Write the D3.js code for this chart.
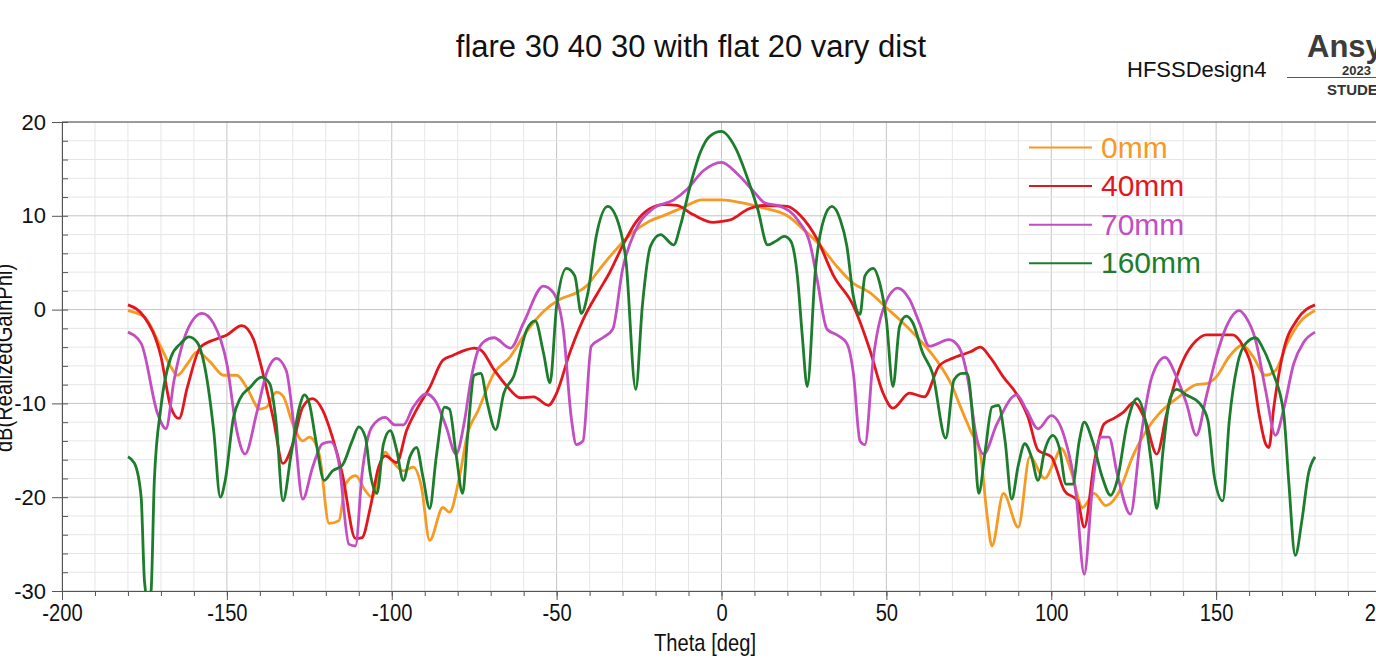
<!DOCTYPE html>
<html>
<head>
<meta charset="utf-8">
<script src="https://cdn.jsdelivr.net/npm/d3@7"></script>
<style>
  html, body { margin: 0; padding: 0; background: #fff; }
  svg { display: block; font-family: "Liberation Sans", Arial, sans-serif; }
</style>
</head>
<body>
<svg id="chart" width="1376" height="658"></svg>
<script>
// series: [theta deg, dB]
const orange0mm = [[-180,-0.1],[-175,-0.8],[-170,-4],[-167,-6.1],[-165,-7],[-162,-5.8],[-159,-4.5],[-155,-5.6],[-151,-7],[-147,-7],[-144,-8.3],[-140,-10.6],[-138,-10.4],[-135,-8.8],[-133,-9.2],[-130,-12.2],[-127,-14],[-125,-13.6],[-122,-15.4],[-119,-22.8],[-116,-22.5],[-114,-18.6],[-111,-17.7],[-108,-19.3],[-106,-20],[-102,-15.2],[-100,-16.1],[-96.5,-17.2],[-93.5,-16.8],[-91,-18.9],[-88.5,-24.6],[-84.5,-21.1],[-82.5,-21.6],[-79.5,-17.9],[-77,-13.2],[-74,-10.9],[-69,-6.8],[-64,-5],[-60,-2.8],[-54,-0.2],[-49,1.1],[-44,1.8],[-41,2.5],[-37,4.3],[-32,6.4],[-27,8.2],[-22,9.4],[-17,10.1],[-11,11],[-6,11.7],[0,11.7],[6,11.4],[12,10.9],[20,10],[25,8.5],[30,6.8],[35,4.6],[40,2.8],[45,1.8],[50,0.2],[55,-1.4],[60,-3.2],[65,-5.3],[70,-8.2],[72.5,-10.4],[75.5,-12.9],[78.5,-15.4],[80.5,-21.8],[82,-25.2],[85.5,-19.6],[90,-23.2],[93.5,-15.7],[98,-18],[101,-16.1],[103,-14.8],[106,-17.2],[109.5,-21.1],[113,-19.6],[116.5,-20.9],[120,-19.8],[125,-15.4],[131,-11.8],[136,-10],[138,-9.5],[144,-8],[147,-7.9],[150,-7.2],[154,-5],[158,-3.8],[161,-4.9],[165,-7],[168,-6.5],[171.5,-3.6],[175.5,-1.3],[180,-0.1]];

const red40mm = [[-180,0.5],[-175,-0.8],[-170,-5],[-167,-10.4],[-164.5,-11.6],[-162,-8.3],[-158,-4],[-153,-3.1],[-150,-2.7],[-145.5,-1.7],[-142,-3.1],[-140,-5.5],[-136,-11.5],[-133,-16.4],[-130,-14.3],[-127,-10.4],[-124,-9.5],[-121,-10.7],[-118,-13.6],[-115,-17.5],[-111,-24.4],[-109,-24.3],[-106.5,-21.1],[-104,-16.8],[-102,-15.6],[-98.5,-16.3],[-95.5,-12.9],[-92.5,-10.7],[-88.5,-8.3],[-84.5,-5.4],[-81.5,-4.9],[-77.5,-4.3],[-75,-4.1],[-73,-4.3],[-69,-6.4],[-65,-8.2],[-61,-9.4],[-57,-9.3],[-52.5,-10.2],[-50,-8.9],[-46,-4.6],[-42,-1.1],[-37,2.1],[-34,3.9],[-30,6.8],[-26,9.3],[-22,10.7],[-17.5,11.2],[-13.5,11.1],[-8.5,10.1],[-2.5,9.3],[0,9.4],[3,9.6],[8,10.7],[13,11.1],[20,11],[24,10],[29,7.5],[34,3.6],[40,0.4],[45,-4.3],[49,-8.9],[52,-10.5],[57,-8.9],[61.5,-9.3],[66,-6],[70,-5.2],[73,-4.8],[75.5,-4.5],[78.5,-4],[81.5,-5.1],[85.5,-7.2],[89.5,-9],[93,-11.5],[96,-15],[100,-15.7],[104,-19.3],[108,-20.4],[110,-23.2],[113,-16.4],[116,-12.2],[119,-11.6],[122,-10.9],[125,-9.9],[128.5,-11.8],[132,-15.4],[135,-11.1],[138,-7.2],[140,-5.4],[144,-3.3],[147,-2.7],[151,-2.7],[155,-2.7],[158,-3.8],[161,-6.5],[163,-11.1],[165,-14.3],[166,-14.7],[167.5,-10.4],[170.5,-4.3],[174.5,-1.1],[180,0.5]];

const magenta70mm = [[-180,-2.4],[-176,-3.6],[-171,-11.1],[-168.5,-12.7],[-166,-7.5],[-162,-2.2],[-157.5,-0.4],[-154,-1.5],[-150,-5.8],[-147,-12.9],[-144.5,-15.4],[-141,-11.1],[-138,-6.8],[-135,-5.2],[-132,-6.5],[-129.5,-12.9],[-127,-20.2],[-124,-16.8],[-121,-14.3],[-118.5,-14.1],[-116,-16.4],[-113,-25],[-111,-25.2],[-109,-17.5],[-106,-12.5],[-102,-11.5],[-99,-12.3],[-96.5,-12.3],[-93.5,-10.4],[-89.5,-9],[-86.5,-9.9],[-83.5,-12.5],[-80.5,-15.4],[-78,-12],[-76,-7.5],[-74,-4.5],[-72,-3.4],[-69,-3],[-64,-4.1],[-60,-1.4],[-54,2.5],[-51,1.8],[-48,-2.1],[-45.5,-11.7],[-44,-14.4],[-42,-14],[-39.5,-3.9],[-36,-3],[-33,-2.1],[-30,4.3],[-26,8.5],[-21,10.7],[-14.5,11.7],[-10.5,12.8],[-5.5,14.8],[0,15.7],[5,14.4],[10,12.5],[13,11.4],[18,11],[23,9.6],[27,6.8],[29,3.2],[32,-2.1],[35,-2.7],[38,-3.6],[40,-6.8],[42,-14],[43.5,-14.4],[46,-5.3],[49,0],[53.5,2.3],[57,1.1],[60,-1.4],[63,-3.9],[69,-3.2],[72,-4],[75,-8],[77,-13],[79.5,-15.4],[83.5,-12.2],[89.5,-9.1],[92.5,-10.7],[96,-12.7],[100,-11.3],[104,-13.6],[107.5,-19.6],[110,-28.2],[112.5,-18.9],[115,-13.6],[117.5,-13.6],[120,-17.5],[124,-21.8],[127,-14],[130.5,-7.2],[134.5,-5.1],[138,-7.2],[141,-10],[144,-13.4],[147,-9.3],[150,-5.1],[153,-1.9],[157,-0.1],[159,-0.8],[162,-3.3],[165,-8.6],[168,-13.4],[170.5,-10.6],[173.5,-5.8],[176.5,-3.5],[180,-2.4]];

const green160mm = [[-180,-15.7],[-178,-16.4],[-176,-20],[-175,-28.9],[-174,-31],[-173,-30],[-172,-18.2],[-170,-10.4],[-167,-5.1],[-164,-3.6],[-161.5,-2.9],[-159,-3.5],[-156,-7.5],[-154,-12.9],[-152,-20],[-150.5,-18.2],[-148,-11.5],[-146,-9.5],[-143,-8.3],[-139.5,-7.2],[-137,-7.9],[-135,-12.2],[-133,-20.4],[-130.5,-15.4],[-128,-10.4],[-126.5,-9.1],[-125,-10],[-123,-14],[-120.5,-18.2],[-118,-17.2],[-115,-16.6],[-112,-14],[-110,-12.5],[-108,-13.6],[-106.5,-17.5],[-104.5,-19.6],[-102.5,-14.3],[-100.5,-12.9],[-98.5,-15],[-96.5,-18.2],[-94.5,-15.7],[-92.5,-14.7],[-90.5,-17.9],[-88.5,-21.2],[-86.5,-15.7],[-84,-10.4],[-82.5,-10.6],[-80.5,-15.4],[-78.5,-19.6],[-77,-13.5],[-75,-7],[-73,-6.8],[-71,-10],[-68.5,-12.8],[-66,-8.9],[-63,-7.1],[-59,-2.1],[-56.5,-1.2],[-54,-4.6],[-52,-7.8],[-50,0.4],[-47,4.4],[-44.5,3.6],[-42.5,-0.4],[-40.5,1.8],[-38,7.8],[-34.5,11],[-31,8.9],[-29,5.3],[-26,-8.5],[-24,0.4],[-21.5,6.8],[-18.5,8],[-14.5,6.9],[-12.5,8.9],[-9.5,13.2],[-6.5,16.7],[-3.5,18.5],[0,19],[4,17.4],[8,13.9],[11,10.7],[14,6.9],[16.5,7.3],[19,7.8],[21,7.3],[23,3.6],[24.5,-2.8],[26,-8.2],[28.5,4.3],[31,9.6],[33.5,11],[36,9.6],[38,6.8],[40,1.4],[42,-0.5],[43.5,3.6],[46,4.4],[48,2.8],[50,-1.1],[52,-8.2],[54,-1.8],[56,-0.7],[58,-1.4],[61,-4.6],[64,-6.8],[68,-13.7],[70.5,-7.5],[73,-6.8],[74.5,-6.8],[76.5,-12.9],[78,-19.6],[80,-15],[82,-10.4],[84,-10.2],[86,-14],[88,-20.2],[90,-16.6],[92,-14.3],[94,-15.7],[96,-18.2],[98,-15],[100.5,-13.4],[102.5,-14.8],[104.5,-18.6],[106.5,-18.6],[108.5,-14],[110,-12],[112.5,-14],[115.5,-17.9],[118,-19.8],[120,-18.2],[123,-12.2],[126,-9.5],[128.5,-11.8],[130.5,-16.8],[132,-21.2],[134,-14.7],[136,-9.5],[138,-8.5],[141,-9.1],[145,-10],[147.5,-11.8],[149.5,-17.9],[152,-20.4],[154,-11.8],[156.5,-5.8],[159,-3.6],[162,-3],[164,-4],[167,-6.5],[170.5,-11.1],[172,-18.2],[174,-26.2],[176,-22.5],[178,-17.5],[180,-15.7]];

const seriesNames = ['0mm', '40mm', '70mm', '160mm'];
const seriesData = [orange0mm, red40mm, magenta70mm, green160mm];
const seriesColors = ['#f59a23', '#e3161e', '#c24ec2', '#1c7d2c'];

const xMajorTicks = [-200, -150, -100, -50, 0, 50, 100, 150, 200];
const yMajorTicks = [-30, -20, -10, 0, 10, 20];

const svg = d3.select('#chart');

const x = d3.scaleLinear().domain([-200, 200]).range([62, 1381]);
const y = d3.scaleLinear().domain([-30, 20]).range([591, 122]);

// plain hyphen minus like the original
const fmt = d => String(d);

// grid
const grid = svg.append('g');
grid.selectAll('.vmin').data(d3.range(-200, 201, 10)).enter().append('line')
    .attr('x1', d => x(d)).attr('x2', d => x(d))
    .attr('y1', y(-30)).attr('y2', y(20))
    .attr('stroke', d => d % 50 === 0 ? '#c4c4c4' : '#e6e6e6')
    .attr('stroke-width', 1);
grid.selectAll('.hmin').data(d3.range(-30, 21, 2)).enter().append('line')
    .attr('x1', x(-200)).attr('x2', x(200))
    .attr('y1', d => y(d)).attr('y2', d => y(d))
    .attr('stroke', d => d % 10 === 0 ? '#c4c4c4' : '#e6e6e6')
    .attr('stroke-width', 1);

// curves
svg.append('clipPath').attr('id', 'plotclip')
    .append('rect')
    .attr('x', x(-200)).attr('y', y(20))
    .attr('width', x(200) - x(-200)).attr('height', y(-30) - y(20));

const line = d3.line()
    .x(d => x(d[0]))
    .y(d => y(d[1]))
    .curve(d3.curveMonotoneX);

svg.append('g').attr('clip-path', 'url(#plotclip)')
    .selectAll('path')
    .data(seriesData)
    .enter()
    .append('path')
    .attr('d', line)
    .attr('fill', 'none')
    .attr('stroke', (d, i) => seriesColors[i])
    .attr('stroke-width', 2.8)
    .attr('stroke-linejoin', 'round');

// top frame
svg.append('line')
    .attr('x1', x(-200)).attr('x2', x(200))
    .attr('y1', y(20)).attr('y2', y(20))
    .attr('stroke', '#555').attr('stroke-width', 1.2);

// x axis
const xAxisG = svg.append('g').attr('transform', `translate(0,${y(-30)})`);
xAxisG.append('g')
    .call(d3.axisBottom(x).tickValues(d3.range(-200, 201, 10)).tickSize(5).tickFormat(''))
    .call(g => g.select('.domain').remove());
xAxisG.append('g')
    .call(d3.axisBottom(x).tickValues(xMajorTicks).tickSize(9).tickPadding(4).tickFormat(fmt))
    .call(g => g.select('.domain').attr('stroke', '#555'));
xAxisG.selectAll('line').attr('stroke', '#555');
xAxisG.selectAll('text')
    .attr('font-size', 24)
    .attr('fill', '#111')
    .attr('font-family', '"Liberation Sans", Arial, sans-serif')
    .attr('transform', 'scale(0.84,1)');

// y axis
const yAxisG = svg.append('g').attr('transform', `translate(${x(-200)},0)`);
yAxisG.append('g')
    .call(d3.axisLeft(y).tickValues(d3.range(-30, 21, 2)).tickSize(-6).tickFormat(''))
    .call(g => g.select('.domain').remove());
yAxisG.append('g')
    .call(d3.axisLeft(y).tickValues(yMajorTicks).tickSize(10).tickPadding(6).tickFormat(fmt))
    .call(g => g.select('.domain').attr('stroke', '#555'));
yAxisG.selectAll('line').attr('stroke', '#555');
yAxisG.selectAll('text')
    .attr('font-size', 22)
    .attr('fill', '#111')
    .attr('font-family', '"Liberation Sans", Arial, sans-serif');

// axis titles
svg.append('text')
    .attr('transform', 'translate(705,651) scale(0.84,1)')
    .attr('text-anchor', 'middle')
    .attr('font-size', 24)
    .attr('fill', '#111')
    .text('Theta [deg]');

svg.append('text')
    .attr('transform', 'translate(12,358) rotate(-90) scale(0.84,1)')
    .attr('text-anchor', 'middle')
    .attr('font-size', 24)
    .attr('fill', '#111')
    .text('dB(RealizedGainPhi)');

// title
svg.append('text')
    .attr('x', 691).attr('y', 57)
    .attr('text-anchor', 'middle')
    .attr('font-size', 31)
    .attr('fill', '#111')
    .text('flare 30 40 30 with flat 20 vary dist');

svg.append('text')
    .attr('x', 1127).attr('y', 77)
    .attr('font-size', 22)
    .attr('fill', '#111')
    .text('HFSSDesign4');

// logo block
svg.append('text')
    .attr('x', 1307).attr('y', 57)
    .attr('font-size', 31).attr('font-weight', 'bold')
    .attr('fill', '#3c3c3c')
    .text('Ansys');
svg.append('line')
    .attr('x1', 1287).attr('x2', 1376).attr('y1', 77.5).attr('y2', 77.5)
    .attr('stroke', '#555').attr('stroke-width', 1);
svg.append('text')
    .attr('x', 1342).attr('y', 75)
    .attr('font-size', 13).attr('font-weight', 'bold')
    .attr('fill', '#333')
    .text('2023');
svg.append('text')
    .attr('x', 1327).attr('y', 95)
    .attr('font-size', 15).attr('font-weight', 'bold')
    .attr('fill', '#333')
    .text('STUDENT');

// legend
const legend = svg.append('g');
seriesNames.forEach((name, i) => {
    const ly = 147.5 + i * 38.6;
    legend.append('line')
        .attr('x1', 1029).attr('x2', 1092)
        .attr('y1', ly).attr('y2', ly)
        .attr('stroke', seriesColors[i]).attr('stroke-width', 2);
    legend.append('text')
        .attr('x', 1101).attr('y', ly + 10)
        .attr('font-size', 30)
        .attr('fill', seriesColors[i])
        .text(name);
});
</script>
</body>
</html>
